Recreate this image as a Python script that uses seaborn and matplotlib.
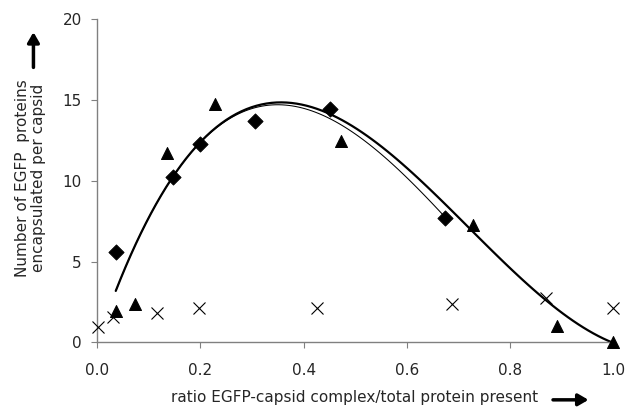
import numpy as np
import pandas as pd
import matplotlib
matplotlib.use("Agg")
import matplotlib.pyplot as plt
import seaborn as sns

# values
diamond_x = [0.036, 0.146, 0.200, 0.305, 0.451, 0.674]
diamond_y = [5.57, 10.25, 12.28, 13.70, 14.43, 7.68]

triangle_x = [0.037, 0.073, 0.135, 0.229, 0.472, 0.729, 0.890, 1.000]
triangle_y = [1.94, 2.37, 11.74, 14.76, 12.46, 7.26, 1.03, 0.00]

cross_x = [0.001, 0.031, 0.115, 0.198, 0.425, 0.688, 0.870, 1.000]
cross_y = [0.93, 1.55, 1.80, 2.14, 2.14, 2.37, 2.72, 2.10]

# points read along the two trendlines
thick_x = [0.036, 0.070, 0.102, 0.144, 0.199, 0.264, 0.309, 0.348, 0.393,
           0.457, 0.529, 0.593, 0.658, 0.713, 0.793, 0.858, 0.922, 0.987, 1.000]
thick_y = [3.18, 5.61, 7.88, 10.36, 12.32, 13.87, 14.69, 14.88, 14.80,
           14.07, 12.52, 11.08, 9.02, 7.00, 5.10, 3.03, 1.27, 0.04, 0.00]

thin_x = [0.036, 0.070, 0.102, 0.144, 0.199, 0.264, 0.309, 0.348, 0.393,
          0.457, 0.529, 0.593, 0.658, 0.674]
thin_y = [3.18, 5.61, 7.88, 10.36, 12.32, 13.80, 14.55, 14.74, 14.53,
          13.76, 12.11, 10.57, 8.30, 7.68]

x_ticks = [0.0, 0.2, 0.4, 0.6, 0.8, 1.0]
y_ticks = [0, 5, 10, 15, 20]

diamonds = pd.DataFrame({"x": diamond_x, "y": diamond_y})
triangles = pd.DataFrame({"x": triangle_x, "y": triangle_y})
crosses = pd.DataFrame({"x": cross_x, "y": cross_y})

sns.set_style("white")
plt.rcParams['font.family'] = ['DejaVu Sans']

fig = plt.figure(figsize=(6.31, 4.08), dpi=100)
ax = fig.add_axes([0.154, 0.161, 0.818, 0.792])

# smooth polynomial trendlines through the read points
sns.regplot(x=thick_x, y=thick_y, order=3, ci=None, scatter=False,
            line_kws={"color": "black", "lw": 1.6}, ax=ax)
sns.regplot(x=thin_x, y=thin_y, order=3, ci=None, scatter=False,
            line_kws={"color": "black", "lw": 0.75}, ax=ax)

sns.scatterplot(data=diamonds, x="x", y="y", marker="D", s=60,
                color="black", edgecolor="black", ax=ax, zorder=5)
sns.scatterplot(data=triangles, x="x", y="y", marker="^", s=75,
                color="black", edgecolor="black", ax=ax, zorder=5, clip_on=False)
ax.plot(crosses["x"], crosses["y"], "x", color="black", ms=9, mew=0.8,
        clip_on=False, zorder=5)

ax.set_xlim(0, 1.0)
ax.set_ylim(0, 20)
ax.set_xticks(x_ticks)
ax.set_xticklabels([f"{v:.1f}" for v in x_ticks])
ax.set_yticks(y_ticks)
ax.tick_params(axis="both", labelsize=11, direction="out", length=4,
               width=0.8, color="#808080", left=True, bottom=True)
ax.tick_params(axis="x", pad=11)
ax.tick_params(axis="y", pad=7)
ax.set_xlabel("")
ax.set_ylabel("")

sns.despine(ax=ax)
for side in ["left", "bottom"]:
    ax.spines[side].set_color("#808080")
    ax.spines[side].set_linewidth(1.0)

# axis labels with arrows
fig.text(0.853, 0.025, "ratio EGFP-capsid complex/total protein present",
         ha="right", va="center", fontsize=11)
ax.annotate("", xy=(0.937, 0.02), xytext=(0.872, 0.02), xycoords="figure fraction",
            arrowprops=dict(arrowstyle="-|>,head_length=0.6,head_width=0.35",
                            color="black", lw=2.5))
fig.text(0.048, 0.564, "Number of EGFP  proteins\nencapsulated per capsid",
         ha="center", va="center", rotation=90, fontsize=11, linespacing=1.05)
ax.annotate("", xy=(0.053, 0.928), xytext=(0.053, 0.828), xycoords="figure fraction",
            arrowprops=dict(arrowstyle="-|>,head_length=0.6,head_width=0.35",
                            color="black", lw=2.5))

plt.savefig("out.png", dpi=100)
plt.close()
